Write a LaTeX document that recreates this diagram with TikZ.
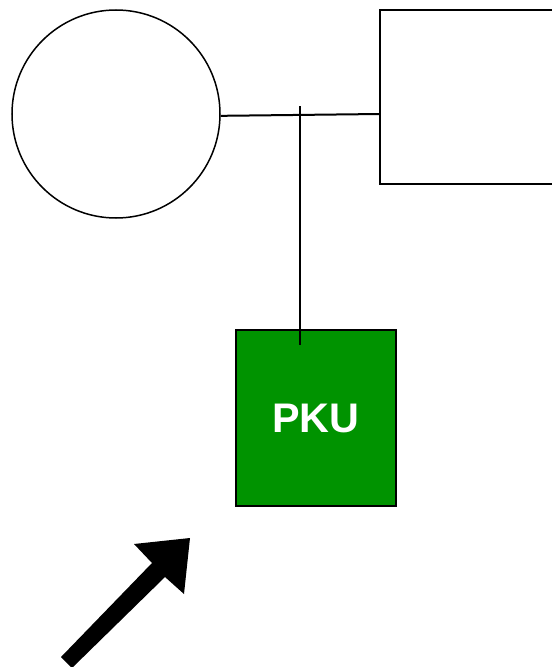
\documentclass[tikz,border=0pt]{standalone}
\usepackage{fontspec}
\setmainfont{Liberation Sans}
\definecolor{pkugreen}{HTML}{009300}
\begin{document}
\begin{tikzpicture}[x=0.75pt,y=-0.75pt,
  outline/.style={draw=black,line width=1.5*0.75pt},
  conn/.style={draw=black,line width=2*0.75pt}]
\useasboundingbox (0,0) rectangle (552,667);
\clip (0,0) rectangle (552,667);
\node[outline,circle,minimum size=208*0.75pt,inner sep=0pt] (c) at (116,114) {};
\draw[outline] (380,10) rectangle (600,184);
\coordinate (rl) at (380,114);
\node[outline,fill=pkugreen,minimum width=160*0.75pt,minimum height=176*0.75pt,inner sep=0pt,
  text=white,font=\bfseries\fontsize{31}{36}\selectfont] (p) at (316,418) {PKU};
\coordinate (vt) at (300,106);
\coordinate (vb) at (300,345);
\draw[conn] (c.-1.7) -- (rl);
\draw[conn] (vt) -- (vb);
\fill[black] (61,657) -- (152,563) -- (134,544) -- (190,538) -- (184,594) -- (165,577) -- (72,668) -- cycle;
\end{tikzpicture}
\end{document}
